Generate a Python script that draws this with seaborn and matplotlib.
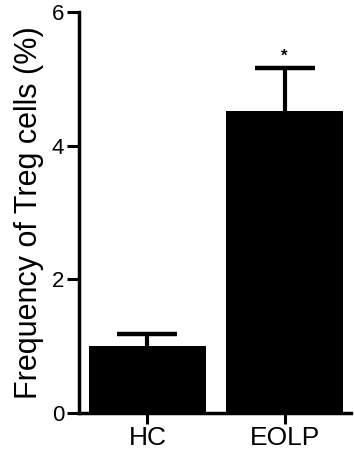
import numpy as np
import pandas as pd
import matplotlib
matplotlib.use('Agg')
import matplotlib.pyplot as plt
import seaborn as sns

## Values
groups = ['HC', 'EOLP']
means = [1.0, 4.52]
sem = [0.18, 0.64]
marks = ['', '*']

df = pd.DataFrame({'group': groups, 'mean': means})

sns.set_style('ticks', {'axes.edgecolor': 'black', 'text.color': 'black',
                        'xtick.color': 'black', 'ytick.color': 'black',
                        'axes.labelcolor': 'black'})
plt.rcParams['font.family'] = ['Liberation Sans', 'DejaVu Sans']

fig = plt.figure(figsize=(3.54, 4.57), dpi=100)
ax = fig.add_axes([0.223, 0.0963, 0.7685, 0.8774])

sns.barplot(data=df, x='group', y='mean', color='black', saturation=1,
            width=0.86, errorbar=None, ax=ax)
for bar in ax.patches:
    bar.set_linewidth(0)

## upper SEM bars only
xpos = np.arange(len(groups))
eb = ax.errorbar(xpos, means, yerr=[np.zeros(len(sem)), sem], fmt='none',
                 ecolor='black', elinewidth=3, capsize=21.5, capthick=3.2, zorder=1)
eb[1][0].set_visible(False)
for cap in eb[1]:
    cap.set_solid_capstyle('round')
for x, m, s, t in zip(xpos, means, sem, marks):
    if t:
        ax.text(x, m + s + 0.06, t, ha='center', va='bottom', fontsize=12,
                fontweight='bold')

ax.set_xlim(-0.5, 1.485)
ax.set_ylim(0, 6)
ax.set_yticks([0, 2, 4, 6])
ax.set_xlabel('')
ax.set_ylabel('Frequency of Treg cells (%)', fontsize=22, labelpad=6)
sns.despine(ax=ax)
for sp in ['left', 'bottom']:
    ax.spines[sp].set_linewidth(2.5)
ax.tick_params(axis='y', labelsize=16, length=8.5, width=2.2, pad=2)
ax.tick_params(axis='x', labelsize=19, length=8, width=2.2, pad=1.5)

fig.savefig('out.png', dpi=100, facecolor='white')
